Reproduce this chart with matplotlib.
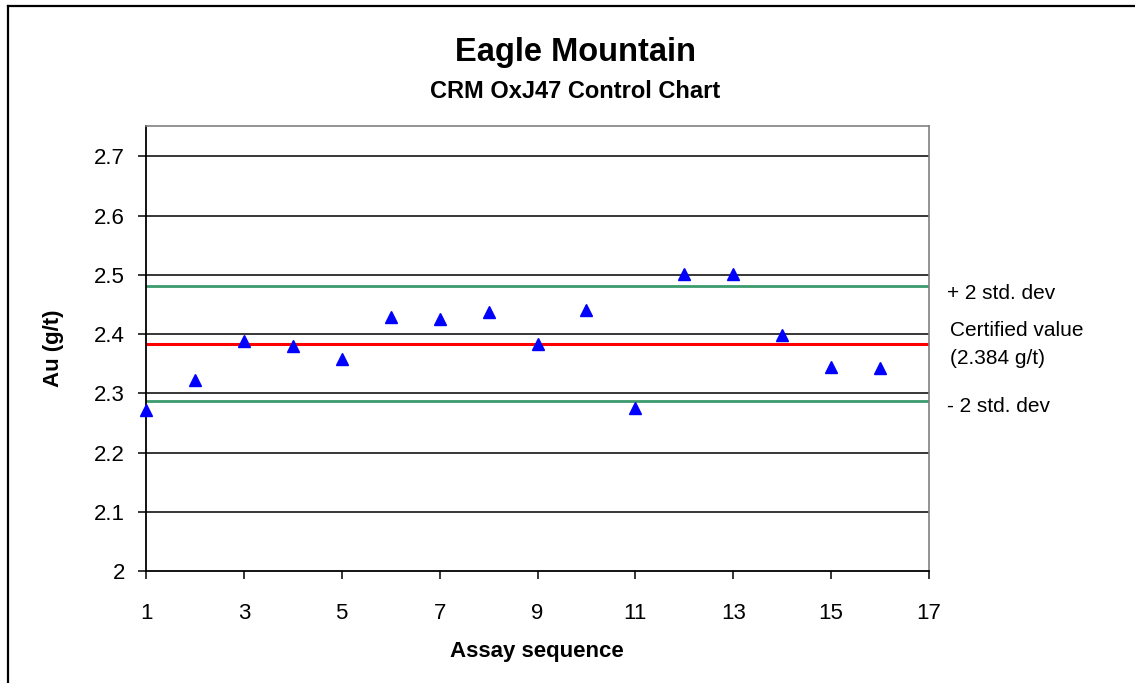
import numpy as np
import matplotlib.pyplot as plt
from matplotlib.lines import Line2D

plt.rcParams['font.family'] = ['Liberation Sans', 'DejaVu Sans']

# assay results
sequence = np.arange(1, 17)
au_values = [2.272, 2.323, 2.388, 2.380, 2.358, 2.428, 2.425, 2.437,
             2.383, 2.440, 2.275, 2.502, 2.502, 2.398, 2.345, 2.342]

certified = 2.384
upper_2sd = 2.481
lower_2sd = 2.287

x_ticks = [1, 3, 5, 7, 9, 11, 13, 15, 17]
y_ticks = [2, 2.1, 2.2, 2.3, 2.4, 2.5, 2.6, 2.7]
y_tick_labels = ['2', '2.1', '2.2', '2.3', '2.4', '2.5', '2.6', '2.7']

W, H = 1135, 683
fig = plt.figure(figsize=(W / 100, H / 100), dpi=100)
ax = fig.add_axes([146 / W, 1 - 571 / H, (929 - 146) / W, (571 - 125.5) / H])

ax.set_xlim(1, 17)
ax.set_ylim(2, 2.752)

# horizontal gridlines
for yv in y_ticks[1:]:
    ax.axhline(yv, color='black', lw=1.1, zorder=1)

ax.plot([1, 17], [upper_2sd, upper_2sd], color='#3c9b6e', lw=2.0, zorder=2)
ax.plot([1, 17], [lower_2sd, lower_2sd], color='#3c9b6e', lw=2.0, zorder=2)
ax.plot([1, 17], [certified, certified], color='#ff0000', lw=2.2, zorder=2)

ax.plot(sequence, au_values, linestyle='none', marker='^', markersize=8.5,
        color='#0000ff', zorder=3, clip_on=False)

ax.set_xticks(x_ticks)
ax.set_yticks(y_ticks)
ax.set_yticklabels(y_tick_labels)
ax.tick_params(axis='both', direction='out', length=6, width=1.1,
               labelsize=16, color='black')
ax.tick_params(axis='x', pad=17)
ax.tick_params(axis='y', pad=9)

for side in ['left', 'bottom']:
    ax.spines[side].set_color('black')
    ax.spines[side].set_linewidth(1.3)
for side in ['top', 'right']:
    ax.spines[side].set_color('#808080')
    ax.spines[side].set_linewidth(1.2)

fig.text(54 / W, 1 - 348 / H, 'Au (g/t)', rotation=90, fontsize=16,
         fontweight='bold', ha='center', va='center')
fig.text(537 / W, 1 - 651 / H, 'Assay sequence', fontsize=16,
         fontweight='bold', ha='center', va='center')

fig.text(575 / W, 1 - 52 / H, 'Eagle Mountain', fontsize=23.5,
         fontweight='bold', ha='center', va='center')
fig.text(575 / W, 1 - 91 / H, 'CRM OxJ47 Control Chart', fontsize=17,
         fontweight='bold', ha='center', va='center')

fig.text(947 / W, 1 - 294 / H, '+ 2 std. dev', fontsize=15, va='center')
fig.text(950 / W, 1 - 331 / H, 'Certified value', fontsize=15, va='center')
fig.text(950 / W, 1 - 359 / H, '(2.384 g/t)', fontsize=15, va='center')
fig.text(947 / W, 1 - 406 / H, '- 2 std. dev', fontsize=15, va='center')

# outer frame (top and left edges visible)
fig.add_artist(Line2D([8 / W, 8 / W], [0, 1 - 6 / H], color='black', lw=1.6))
fig.add_artist(Line2D([8 / W, 1], [1 - 6 / H, 1 - 6 / H], color='black', lw=1.6))

fig.savefig('out.png', dpi=100, facecolor='white')
